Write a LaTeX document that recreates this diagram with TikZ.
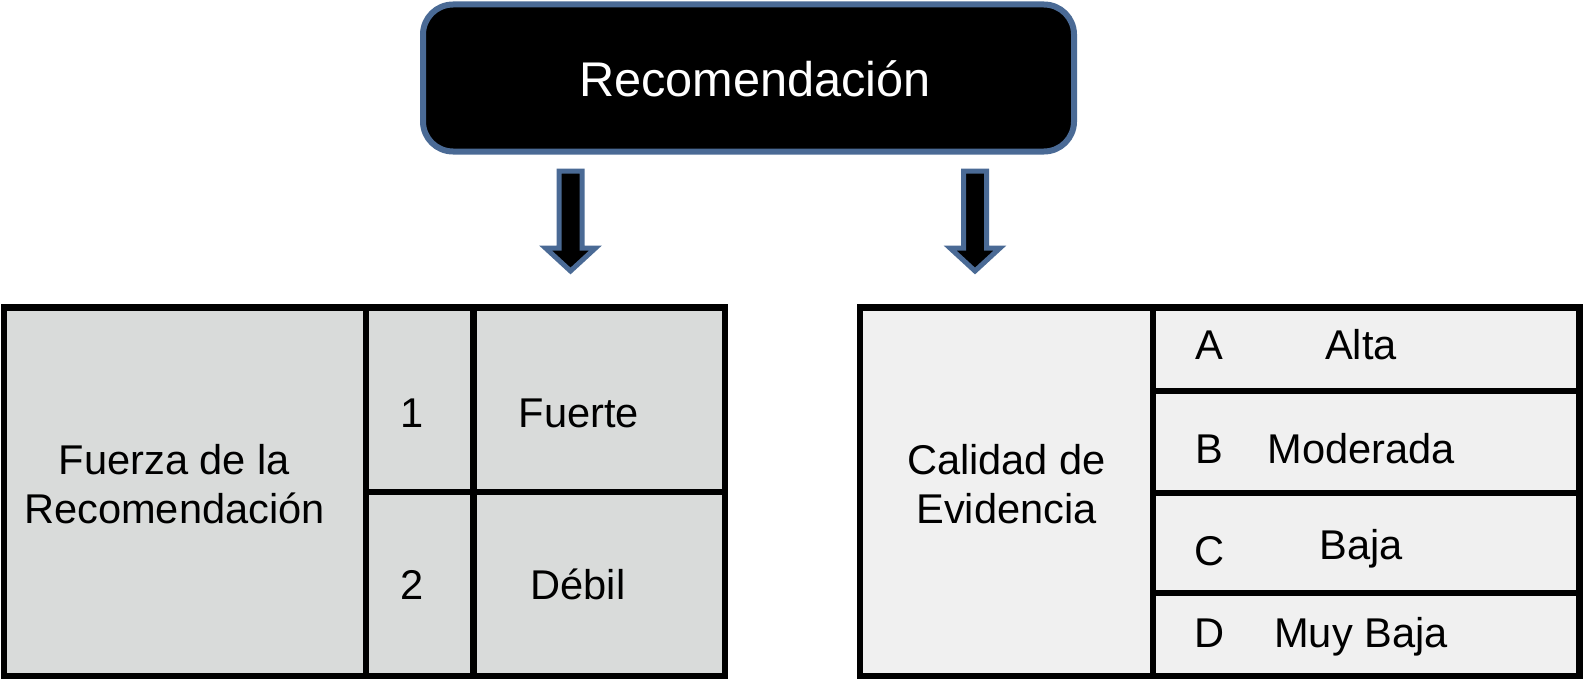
\documentclass[tikz,border=0pt]{standalone}
\usepackage{fontspec}
\setmainfont{Liberation Sans}
\usetikzlibrary{calc}
\definecolor{boxblue}{HTML}{4A6A95}
\definecolor{lgray}{HTML}{D9DBDA}
\definecolor{vlgray}{HTML}{F0F0F0}
\begin{document}
\begin{tikzpicture}[x=1bp,y=-1bp,
  tab/.style={line width=6.5bp, draw=black},
  lbl/.style={font=\fontsize{41.6bp}{48bp}\selectfont, anchor=base, inner sep=0pt},
  blockarrow/.style={fill=black, draw=boxblue, line width=5bp, line join=miter}]
\useasboundingbox (0,0) rectangle (1583,682);
% top box
\node[draw=boxblue, line width=6bp, fill=black, rounded corners=30bp,
      minimum width=651bp, minimum height=147bp, inner sep=0pt] (rec) at (748.5,78) {};
\node[font=\fontsize{48.7bp}{56bp}\selectfont, text=white, anchor=base, inner sep=0pt] (rectxt) at (755,97) {Recomendación};
% arrows
\coordinate (l1) at (570.5,171); \coordinate (l2) at (570.5,271);
\coordinate (r1) at (975,171); \coordinate (r2) at (975,271);
\draw[blockarrow] ($(l1)+(-11.5,0)$) -- ($(l2)+(-11.5,-23)$) -- ($(l2)+(-25,-23)$) -- (l2)
   -- ($(l2)+(25,-23)$) -- ($(l2)+(11.5,-23)$) -- ($(l1)+(11.5,0)$) -- cycle;
\draw[blockarrow] ($(r1)+(-11.5,0)$) -- ($(r2)+(-11.5,-23)$) -- ($(r2)+(-25,-23)$) -- (r2)
   -- ($(r2)+(25,-23)$) -- ($(r2)+(11.5,-23)$) -- ($(r1)+(11.5,0)$) -- cycle;
% left table
\draw[tab, fill=lgray] (4,307.5) rectangle (725,676);
\draw[tab] (366,307.5) -- (366,676);
\draw[tab] (473.5,307.5) -- (473.5,676);
\draw[tab] (366,492) -- (725,492);
% right table
\draw[tab, fill=vlgray] (860,307.5) rectangle (1579.5,676);
\draw[tab] (1153,307.5) -- (1153,676);
\draw[tab] (1153,391) -- (1579.5,391);
\draw[tab] (1153,493) -- (1579.5,493);
\draw[tab] (1153,593) -- (1579.5,593);
% left texts
\node[lbl] (f1) at (174.5,474) {Fuerza de la};
\node[lbl] (f2) at (174.5,523) {Recomendación};
\node[lbl] (n1) at (412.5,427) {1};
\node[lbl] (fu) at (579,427) {Fuerte};
\node[lbl] (n2) at (412.5,599) {2};
\node[lbl] (de) at (578,599) {Débil};
% right texts
\node[lbl] (c1) at (1006.5,474) {Calidad de};
\node[lbl] (c2) at (1006.5,523) {Evidencia};
\node[lbl] (ga) at (1209,359) {A};
\node[lbl] (ta) at (1361,359) {Alta};
\node[lbl] (gb) at (1209,463) {B};
\node[lbl] (tb) at (1361,463) {Moderada};
\node[lbl] (gc) at (1210,565.5) {C};
\node[lbl] (tc) at (1361,559.5) {Baja};
\node[lbl] (gd) at (1210,647) {D};
\node[lbl] (td) at (1361,647) {Muy Baja};
\end{tikzpicture}
\end{document}
